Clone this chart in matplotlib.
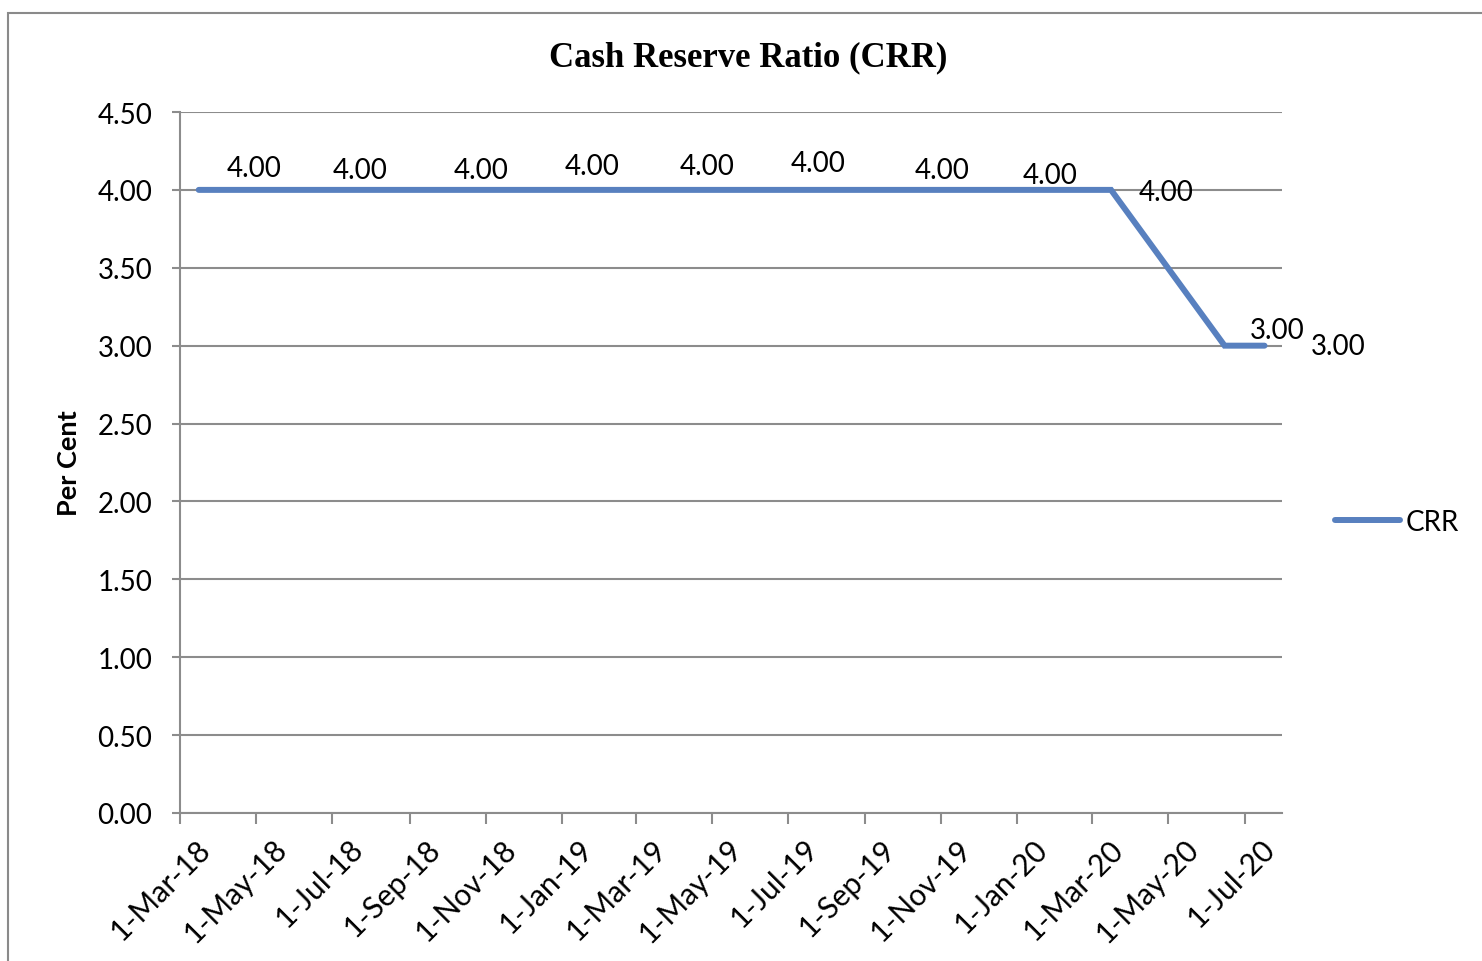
import matplotlib
matplotlib.use("Agg")
import matplotlib.pyplot as plt
import matplotlib.transforms as mtransforms
from matplotlib.patches import Rectangle
import pandas as pd

# data
dates = ["2018-03-16", "2018-06-09", "2018-09-14", "2018-12-12",
         "2019-03-14", "2019-06-11", "2019-09-18", "2019-12-14",
         "2020-03-16", "2020-06-15", "2020-07-17"]
crr = [4.00, 4.00, 4.00, 4.00, 4.00, 4.00, 4.00, 4.00, 4.00, 3.00, 3.00]
tick_dates = pd.date_range("2018-03-01", "2020-07-01", freq="2MS")
tick_labels = [d.strftime("1-%b-%y") for d in tick_dates]

# label offsets (points), labels were dragged around in the original
label_dx = [40, 40, 40, 40, 40, 40, 40, 40, 40, 38, 53]
label_dy = [16, 14, 14, 17, 17, 19, 14, 11, -1.5, 11.5, 0]

x = pd.to_datetime(dates)
line_col = "#5880bf"
grid_col = "#8c8c8c"

plt.rcParams["font.family"] = ["Lato", "DejaVu Sans"]

fig = plt.figure(figsize=(14.82, 9.62), dpi=100)
ax = fig.add_axes([180/1482, 1-814/962, (1282-180)/1482, (814-113)/962])

ax.plot(x, crr, color=line_col, lw=4.3, solid_capstyle="round",
        solid_joinstyle="miter", label="CRR", zorder=3)

for xi, yi, dx, dy in zip(x, crr, label_dx, label_dy):
    ax.annotate("{:.2f}".format(yi), (xi, yi), xytext=(dx, dy),
                textcoords="offset points", ha="center", va="center",
                fontsize=20, zorder=4)

ax.set_ylim(0, 4.5)
ax.set_yticks([i*0.5 for i in range(10)])
ax.yaxis.set_major_formatter(matplotlib.ticker.FormatStrFormatter("%.2f"))
ax.set_xlim(pd.Timestamp("2018-03-01"), pd.Timestamp("2020-07-31"))
ax.set_xticks(tick_dates)
ax.set_xticklabels(tick_labels)

ax.grid(axis="y", color=grid_col, lw=1.5)
ax.set_axisbelow(True)
for s in ["top", "right"]:
    ax.spines[s].set_visible(False)
for s in ["left", "bottom"]:
    ax.spines[s].set_color(grid_col)
    ax.spines[s].set_linewidth(1.5)

ax.tick_params(axis="y", length=6, width=1.5, color=grid_col,
               labelsize=20, pad=14)
ax.tick_params(axis="x", length=8, width=1.5, color=grid_col,
               labelsize=21.5, pad=2)

offset = mtransforms.ScaledTranslation(16/100, -7/100, fig.dpi_scale_trans)
for lab in ax.get_xticklabels():
    lab.set_rotation(45)
    lab.set_ha("right")
    lab.set_va("top")
    lab.set_rotation_mode("anchor")
    lab.set_transform(lab.get_transform() + offset)

ax.set_ylabel("Per Cent", fontsize=19.5, fontweight="bold", labelpad=12)

fig.text(748/1482, 1-58/962, "Cash Reserve Ratio (CRR)",
         family="Liberation Serif", fontweight="bold", fontsize=25,
         ha="center", va="center")

ax.legend(loc="center left", bbox_to_anchor=(1335/1482, 1-523/962),
          bbox_transform=fig.transFigure, frameon=False, borderpad=0,
          borderaxespad=0, handlelength=2.35, handletextpad=0.2,
          fontsize=20)

# chart border (cropped at right and bottom in the original)
fig.patches.append(Rectangle((8/1482, -0.05), 1.1, 1.05-14/962,
                             transform=fig.transFigure, fill=False,
                             edgecolor="#8a8a8a", lw=1.5))

fig.savefig("out.png", dpi=100)
